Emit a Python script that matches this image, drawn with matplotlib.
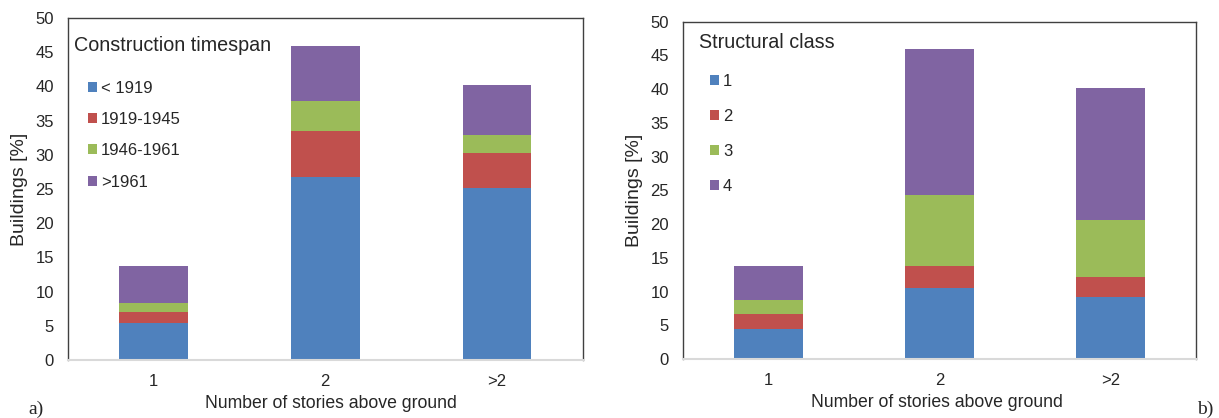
import numpy as np
import matplotlib
matplotlib.use("Agg")
import matplotlib.pyplot as plt

plt.rcParams['font.family'] = ['Liberation Sans', 'DejaVu Sans']

# ---------- Data ----------
stories = ["1", "2", ">2"]

# a) share of buildings per construction timespan
timespan_labels = ["< 1919", "1919-1945", "1946-1961", ">1961"]
timespan_values = [
    [5.4, 26.7, 25.2],
    [1.55, 6.75, 5.05],
    [1.35, 4.45, 2.6],
    [5.5, 8.0, 7.35],
]

# b) share of buildings per structural class
class_labels = ["1", "2", "3", "4"]
class_values = [
    [4.4, 10.5, 9.25],
    [2.3, 3.3, 2.9],
    [2.0, 10.55, 8.4],
    [5.15, 21.55, 19.55],
]

colors = ["#4F81BD", "#C0504D", "#9BBB59", "#8064A2"]
text_color = "#262626"


def stacked_panel(ax, values, labels, title, leg_title_xy, leg_anchor, spacing):
    x = np.arange(len(stories))
    bottom = np.zeros(len(stories))
    for vals, lab, col in zip(values, labels, colors):
        ax.bar(x, vals, width=0.4, bottom=bottom, color=col, label=lab,
               edgecolor="none")
        bottom += np.array(vals)

    ax.set_xlim(-0.5, 2.5)
    ax.set_ylim(0, 50)
    ax.set_yticks(np.arange(0, 51, 5))
    ax.set_xticks(x)
    ax.set_xticklabels(stories)
    ax.tick_params(length=0, labelsize=12, colors=text_color)
    ax.tick_params(axis="y", pad=10)
    ax.tick_params(axis="x", pad=10)

    for side in ["left", "top", "right"]:
        ax.spines[side].set_color("#404040")
        ax.spines[side].set_linewidth(1.0)
    ax.spines["bottom"].set_color("#D9D9D9")
    ax.spines["bottom"].set_linewidth(1.5)

    ax.set_ylabel("Buildings [%]", fontsize=14, color=text_color, va="center")
    ax.set_xlabel("Number of stories above ground", fontsize=12.7,
                  color=text_color, va="center")

    ax.text(leg_title_xy[0], leg_title_xy[1], title, transform=ax.transAxes,
            fontsize=14.2, color=text_color, ha="left", va="center")
    ax.legend(loc="upper left", bbox_to_anchor=leg_anchor, frameon=False,
              fontsize=12, handlelength=0.55, handleheight=0.55,
              handletextpad=0.25, labelspacing=spacing, borderpad=0,
              borderaxespad=0, labelcolor=text_color)


fig = plt.figure(figsize=(12.19, 4.18), dpi=100)

ax1 = fig.add_axes([0.0555, 0.1388, 0.4227, 0.818])
stacked_panel(ax1, timespan_values, timespan_labels, "Construction timespan",
              (0.012, 0.921), (0.039, 0.817), 0.98)
ax1.yaxis.set_label_coords(-0.094, 0.5)
ax1.xaxis.set_label_coords(0.511, -0.126)

ax2 = fig.add_axes([0.5603, 0.1411, 0.4208, 0.807])
stacked_panel(ax2, class_values, class_labels, "Structural class",
              (0.031, 0.938), (0.052, 0.844), 1.2)
ax2.yaxis.set_label_coords(-0.094, 0.5)
ax2.xaxis.set_label_coords(0.495, -0.13)

# panel tags
fig.text(0.023, 0.02, "a)", fontsize=14, family=["Liberation Serif"],
         color=text_color, va="center")
fig.text(0.982, 0.02, "b)", fontsize=14, family=["Liberation Serif"],
         color=text_color, va="center")

fig.savefig("out.png", dpi=100)
